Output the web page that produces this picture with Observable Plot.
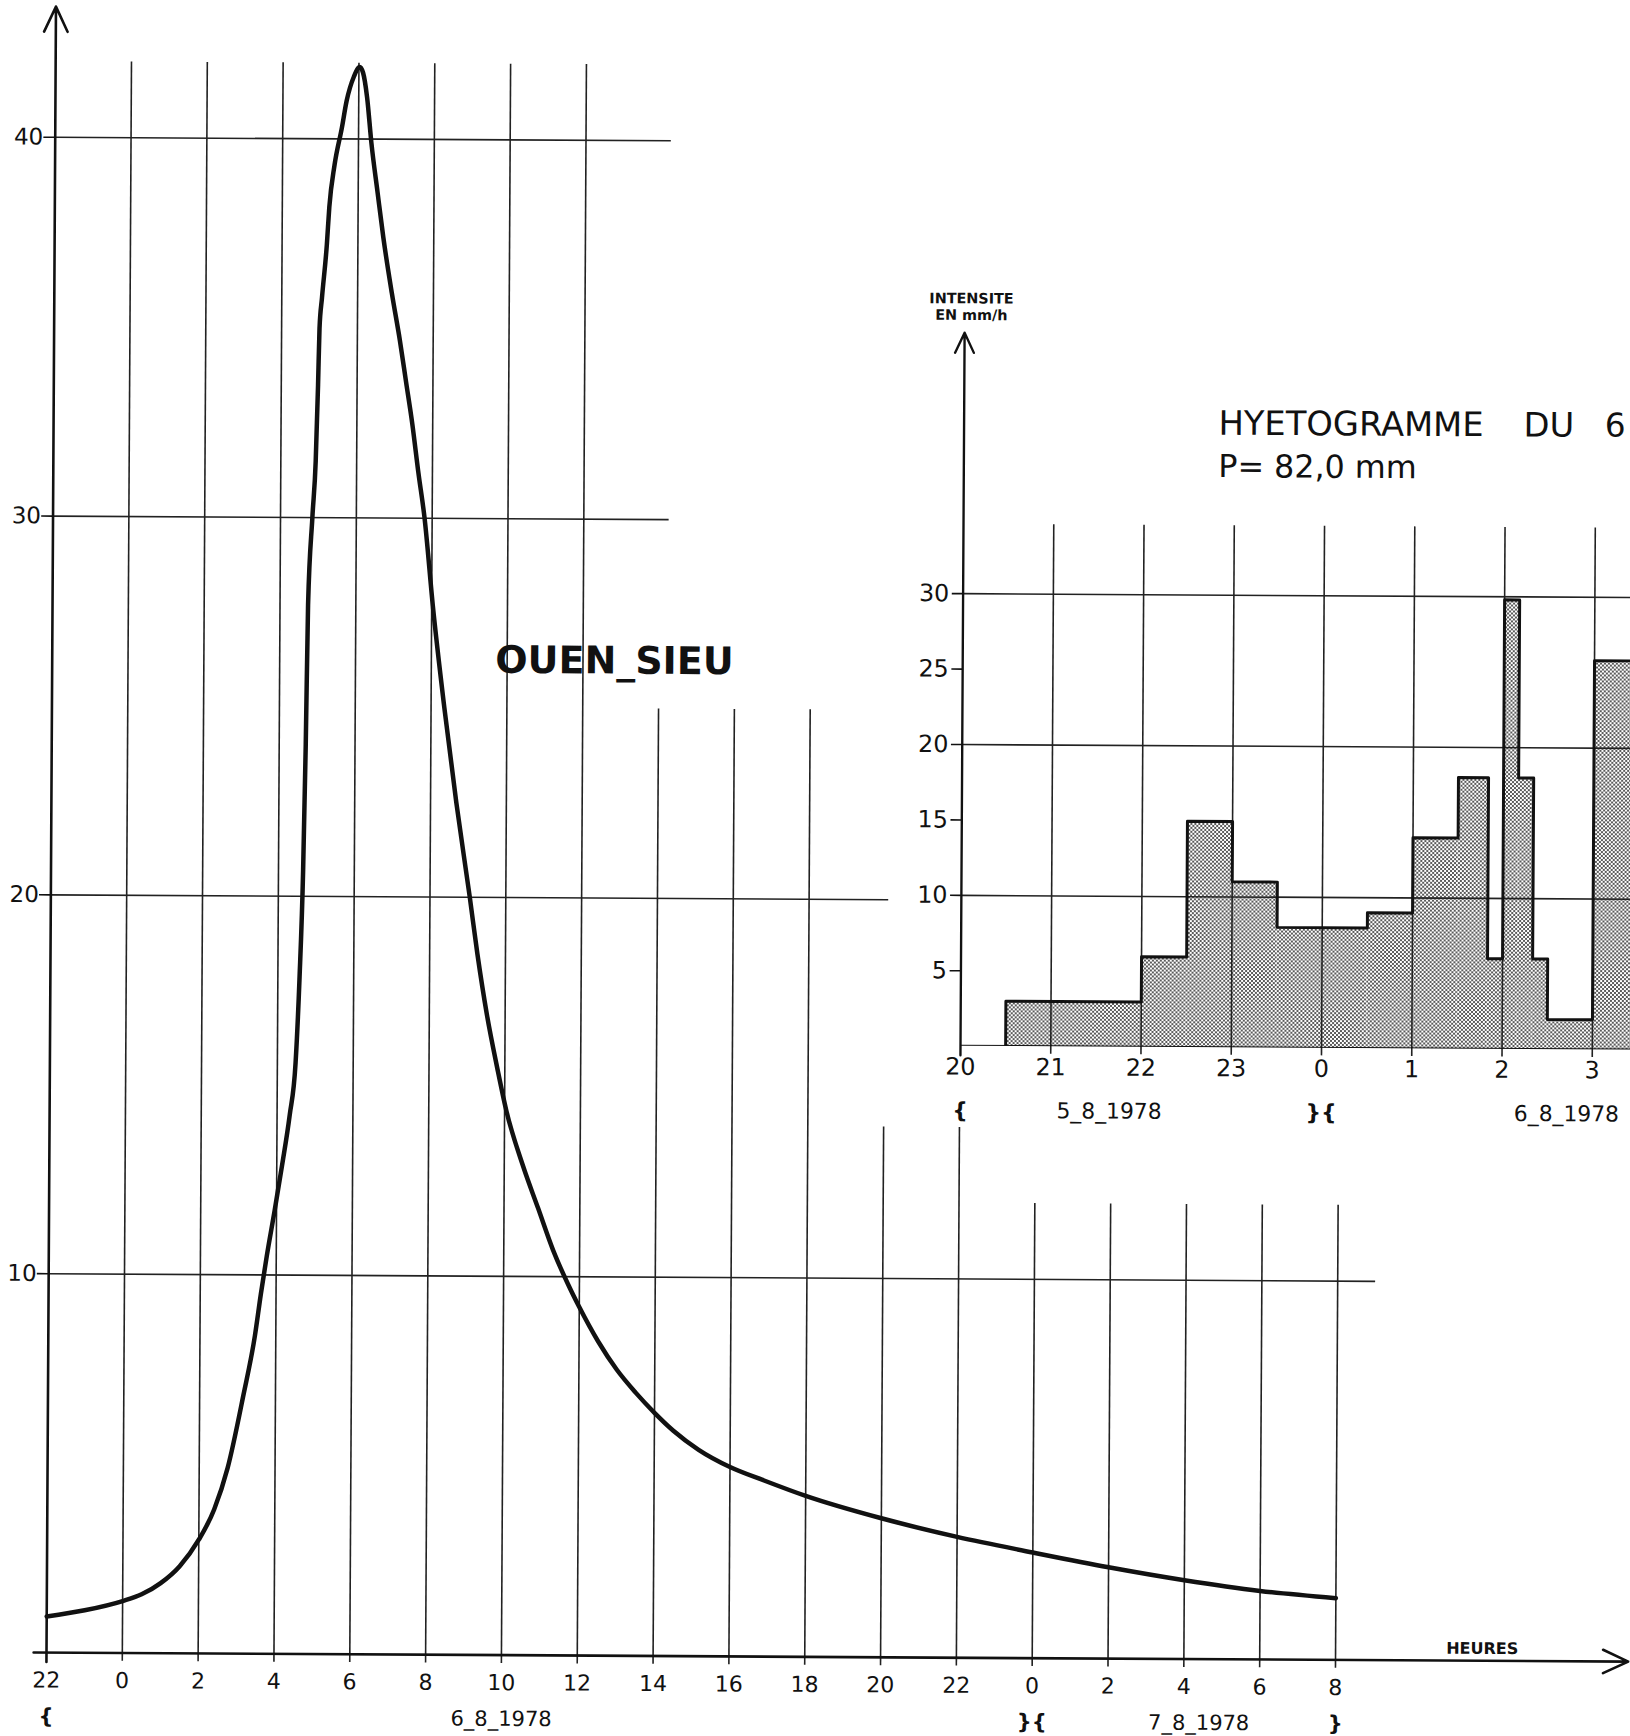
<!DOCTYPE html>
<html>
<head>
<meta charset="utf-8">
<script src="https://cdn.jsdelivr.net/npm/d3@7"></script>
<script src="https://cdn.jsdelivr.net/npm/@observablehq/plot@0.6"></script>
<style>
  html, body { margin: 0; padding: 0; background: #fff; overflow: hidden; }
  /* the drawing sheet sits very slightly askew on the page */
  #page { position: relative; width: 1630px; height: 1736px; background: #fff;
          transform: rotate(0.33deg); transform-origin: 46px 1652px; }
  #hydro { position: absolute; left: 0; top: 0; }
  #hyeto { position: absolute; left: 896px; top: 245px; }
</style>
</head>
<body>
<div id="page"><div id="hydro"></div><div id="hyeto"></div></div>
<script>
// ---- Hydrogram OUEN_SIEU, hours counted from 22h on 5-8-1978 ----
const flowHours = [0, 1, 2, 2.5, 3, 3.5, 4, 4.4, 4.75, 5.15,
  5.45, 5.6, 5.75, 5.95, 6.14, 6.33, 6.48, 6.57, 6.65, 6.7,
  6.74, 6.84, 6.92, 6.97, 7.0, 7.06, 7.18, 7.24, 7.37, 7.56,
  7.68, 7.87, 8.02, 8.11, 8.22, 8.34, 8.51, 8.67, 8.9, 9.12,
  9.29, 9.46, 9.63, 9.8, 10.03, 10.35, 10.68, 11.05, 11.26, 11.52,
  11.8, 12.04, 12.5, 12.9, 13.3, 13.7, 14, 14.5, 15, 15.5,
  16, 16.5, 17.17, 18, 18.9, 20, 22, 24, 26, 28,
  30, 32, 34];
const flowValues = [0.95, 1.12, 1.37, 1.55, 1.85, 2.3, 3.0, 3.8, 4.9, 6.8,
  8.4, 9.5, 10.5, 11.7, 12.9, 14.2, 15.6, 17.8, 20.7, 24.0,
  27.7, 30.0, 31.5, 33.5, 35.0, 35.8, 37.2, 38.2, 39.3, 40.3,
  41.0, 41.65, 41.9, 41.75, 41.1, 39.9, 38.6, 37.4, 35.95, 34.7,
  33.6, 32.5, 31.2, 30.0, 27.7, 25.0, 22.5, 20.0, 18.5, 16.9,
  15.5, 14.4, 12.9, 11.8, 10.7, 9.8, 9.2, 8.3, 7.55, 6.95,
  6.42, 5.95, 5.45, 5.0, 4.65, 4.25, 3.67, 3.19, 2.79, 2.41,
  2.08, 1.81, 1.63];

const hourTicks = [0, 2, 4, 6, 8, 10, 12, 14, 16, 18, 20, 22, 24, 26, 28, 30, 32, 34];
const hourLabels = ["22", "0", "2", "4", "6", "8", "10", "12", "14", "16", "18", "20", "22", "0", "2", "4", "6", "8"];
const flowTicks = [10, 20, 30, 40];
const flowLabels = ["10", "20", "30", "40"];

// staircase grid: height reached by each hour line, length of each level line
const gridHours = [2, 4, 6, 8, 10, 12, 14, 16, 18, 20, 22, 24, 26, 28, 30, 32, 34];
const gridTops = [42, 42, 42, 42, 42, 42, 42, 25, 25, 25, 14, 14, 12, 12, 12, 12, 12];
const levelEnds = [35.0, 22.1, 16.25, 16.25];

// day markers below the hour axis
const dayBraceHours = [0, 26, 34];
const dayBraces = ["{", "}{", "}"];
const dayHours = [12, 30.4];
const dayLabels = ["6_8_1978", "7_8_1978"];

// ---- Hyetogram, minutes counted from 20h00 on 5-8-1978 ----
const rainFrom = [30, 120, 150, 180, 210, 270, 300, 330, 350, 360, 370, 380, 390, 420];
const rainTo   = [120, 150, 180, 210, 270, 300, 330, 350, 360, 370, 380, 390, 420, 480];
const rainIntensity = [3, 6, 15, 11, 8, 9, 14, 18, 6, 29.8, 18, 6, 2, 25.8];

const rainHourTicks = [0, 1, 2, 3, 4, 5, 6, 7];
const rainHourLabels = ["20", "21", "22", "23", "0", "1", "2", "3"];
const rainTicks = [5, 10, 15, 20, 25, 30];
const rainGrid = [10, 20, 30];
const rainBraceHours = [0, 4];
const rainBraces = ["{", "}{"];

const font = "DejaVu Sans";
const ink = "#111";
const gridInk = "#222";

// ---------- main hydrogram ----------
const flow = flowHours.map((t, i) => ({t, q: flowValues[i]}));
const xTicks = hourTicks.map((t, i) => ({t, label: hourLabels[i]}));
const yTicks = flowTicks.map((v, i) => ({v, label: flowLabels[i]}));
const vGrid = gridHours.map((t, i) => ({t, top: gridTops[i]}));
const hGrid = flowTicks.map((v, i) => ({v, end: levelEnds[i]}));
const braces = dayBraceHours.map((t, i) => ({t, label: dayBraces[i]}));
const days = dayHours.map((t, i) => ({t, label: dayLabels[i]}));

const hydro = Plot.plot({
  width: 1630, height: 1736,
  marginLeft: 46, marginRight: 0, marginTop: 0, marginBottom: 84,
  x: {domain: [0, 41.78], axis: null},
  y: {domain: [0, 43.61], axis: null},
  style: {background: "transparent"},
  marks: [
    Plot.ruleY(hGrid, {y: "v", x1: 0, x2: "end", stroke: gridInk, strokeWidth: 1.6}),
    Plot.ruleX(vGrid, {x: "t", y1: -0.22, y2: "top", stroke: gridInk, strokeWidth: 1.6}),
    Plot.ruleY(yTicks, {y: "v", x1: -0.3, x2: 0, stroke: ink, strokeWidth: 1.6}),
    Plot.arrow([0], {x1: 0, y1: -0.25, x2: 0, y2: 43.45, stroke: ink, strokeWidth: 2.6, headLength: 16, headAngle: 50}),
    Plot.arrow([0], {x1: -0.34, y1: 0, x2: 41.72, y2: 0, stroke: ink, strokeWidth: 2.6, headLength: 16, headAngle: 50}),
    Plot.line(flow, {x: "t", y: "q", curve: "monotone-x", stroke: ink, strokeWidth: 4.5, strokeLinejoin: "round"}),
    Plot.text(yTicks, {x: 0, y: "v", text: "label", textAnchor: "end", dx: -12, fontSize: 23, fontFamily: font, fill: ink}),
    Plot.text(xTicks, {x: "t", y: 0, text: "label", dy: 28, fontSize: 22, fontFamily: font, fill: ink}),
    Plot.text(braces, {x: "t", y: 0, text: "label", dy: 64, fontSize: 21, fontWeight: "bold", fontFamily: font, fill: ink}),
    Plot.text(days, {filter: d => d.label === "6_8_1978", x: "t", y: 0, text: "label", dy: 64, fontSize: 21, fontFamily: font, fill: ink, letterSpacing: 1}),
    Plot.text(days, {filter: d => d.label === "7_8_1978", x: "t", y: 0, text: "label", dy: 64, fontSize: 21, fontFamily: font, fill: ink, letterSpacing: 3.5}),
    Plot.text(["OUEN_SIEU"], {x: 14.83, y: 26.25, text: d => d, fontSize: 38, fontWeight: "bold", fontFamily: font, fill: ink}),
    Plot.text(["HEURES"], {x: 37.87, y: 0, text: d => d, dy: -12, fontSize: 16, fontWeight: "bold", fontFamily: font, fill: ink, letterSpacing: 1.2})
  ]
});
document.getElementById("hydro").appendChild(hydro);

// ---------- hyetogram ----------
const rain = rainFrom.map((a, i) => ({a: a / 60, b: rainTo[i] / 60, v: rainIntensity[i]}));
const outline = [{x: rain[0].a, y: 0}, ...rain.map(d => ({x: d.a, y: d.v})),
  {x: rain[rain.length - 1].b, y: rain[rain.length - 1].v}];
const rTicks = rainHourTicks.map((h, i) => ({h, label: rainHourLabels[i]}));
const rBraces = rainBraceHours.map((h, i) => ({h, label: rainBraces[i]}));

const hyeto = Plot.plot({
  width: 740, height: 890,
  marginLeft: 61, marginRight: 0, marginTop: 0, marginBottom: 88,
  x: {domain: [0, 7.462], axis: null},
  y: {domain: [0, 52.73], axis: null},
  style: {background: "transparent"},
  marks: [
    Plot.rect(rain, {x1: "a", x2: "b", y1: 0, y2: "v", fill: "url(#stipple)", clip: true}),
    Plot.ruleY(rainGrid, {y: d => d, x1: 0, x2: 7.5, stroke: gridInk, strokeWidth: 1.6, clip: true}),
    Plot.ruleX(rainHourTicks.slice(1), {x: d => d, y1: -0.5, y2: 34.6, stroke: gridInk, strokeWidth: 1.6}),
    Plot.ruleY(rainTicks, {y: d => d, x1: -0.12, x2: 0, stroke: ink, strokeWidth: 1.6}),
    Plot.line(outline, {x: "x", y: "y", curve: "step-after", stroke: ink, strokeWidth: 3, clip: true}),
    Plot.ruleY([0], {x1: -0.155, x2: 7.5, stroke: ink, strokeWidth: 3, clip: true}),
    Plot.arrow([0], {x1: 0, y1: -0.6, x2: 0, y2: 47.3, stroke: ink, strokeWidth: 2.4, headLength: 14, headAngle: 50}),
    Plot.text(rainTicks, {x: 0, y: d => d, text: d => String(d), textAnchor: "end", dx: -14, fontSize: 24, fontFamily: font, fill: ink}),
    Plot.text(rTicks, {x: "h", y: 0, text: "label", dy: 21, fontSize: 24, fontFamily: font, fill: ink}),
    Plot.text(rBraces, {x: "h", y: 0, text: "label", dy: 65, fontSize: 22, fontWeight: "bold", fontFamily: font, fill: ink}),
    Plot.text(["5_8_1978"], {x: 1.65, y: 0, text: d => d, dy: 65, fontSize: 22, fontFamily: font, fill: ink, letterSpacing: 2.4}),
    Plot.text(["6_8_1978"], {x: 7.3, y: 0, text: d => d, textAnchor: "end", dy: 65, fontSize: 22, fontFamily: font, fill: ink, letterSpacing: 1.5}),
    Plot.text(["INTENSITE"], {x: 0.074, y: 49.55, text: d => d, fontSize: 14.5, fontWeight: "bold", fontFamily: font, fill: ink, letterSpacing: 2.6}),
    Plot.text(["EN mm/h"], {x: 0.074, y: 48.45, text: d => d, fontSize: 14.5, fontWeight: "bold", fontFamily: font, fill: ink, letterSpacing: 1.5}),
    Plot.text(["HYETOGRAMME"], {x: 2.818, y: 41.35, text: d => d, textAnchor: "start", fontSize: 34, fontFamily: font, fill: ink, letterSpacing: 1.9}),
    Plot.text(["DU"], {x: 6.2, y: 41.35, text: d => d, textAnchor: "start", fontSize: 34, fontFamily: font, fill: ink, letterSpacing: 1.8}),
    Plot.text(["6"], {x: 7.1, y: 41.35, text: d => d, textAnchor: "start", fontSize: 33, fontFamily: font, fill: ink}),
    Plot.text(["P= 82,0 mm"], {x: 2.82, y: 38.5, text: d => d, textAnchor: "start", fontSize: 32, fontFamily: font, fill: ink, letterSpacing: 1.5})
  ]
});
const svgNS = "http://www.w3.org/2000/svg";
const defs = document.createElementNS(svgNS, "defs");
defs.innerHTML = '<pattern id="stipple" width="4" height="4" patternUnits="userSpaceOnUse">' +
  '<rect width="4" height="4" fill="#fff"/>' +
  '<circle cx="1" cy="1" r="1" fill="#222"/><circle cx="3" cy="3" r="1" fill="#222"/></pattern>';
hyeto.insertBefore(defs, hyeto.firstChild);
document.getElementById("hyeto").appendChild(hyeto);
</script>
</body>
</html>
